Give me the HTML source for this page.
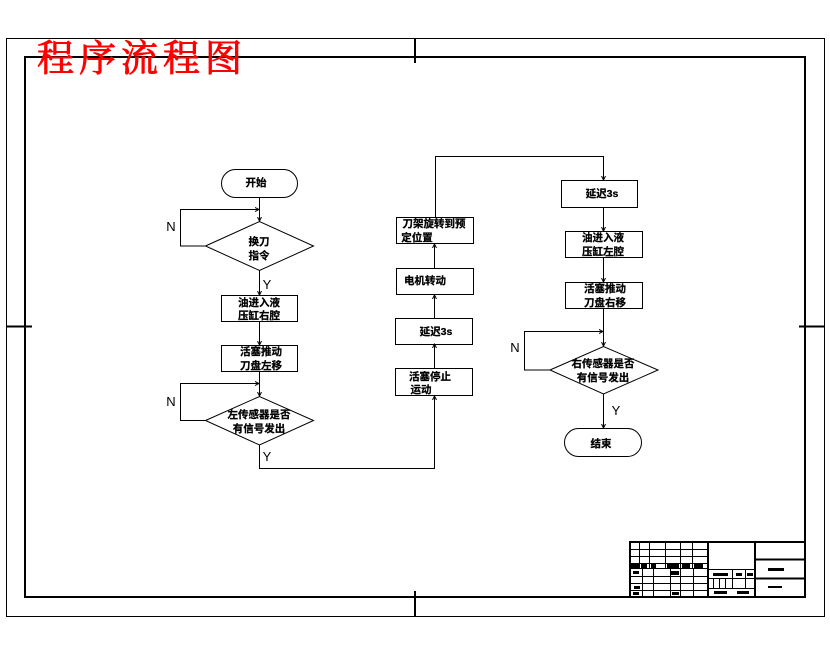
<!DOCTYPE html>
<html lang="zh"><head><meta charset="utf-8"><style>
html,body{margin:0;padding:0;background:#fff}
svg{display:block}
text{font-family:"Liberation Sans","Noto Sans CJK SC",sans-serif}
.c{font-size:10.5px;font-weight:700;text-anchor:middle;fill:#000;stroke:#000;stroke-width:.25px}
.l{font-size:13px;fill:#000;text-anchor:middle}
</style></head><body>
<svg width="830" height="654" viewBox="0 0 830 654" xmlns="http://www.w3.org/2000/svg">
<defs><marker id="a" markerWidth="5" markerHeight="6" refX="4" refY="3" orient="auto" markerUnits="userSpaceOnUse"><path d="M0 1L4 3L0 5" fill="none" stroke="#000"/></marker></defs>
<g shape-rendering="crispEdges" fill="none" stroke="#000">
<rect x="6.500" y="38.500" width="818" height="578"/>
<rect x="25" y="57" width="780" height="540" stroke-width="2"/>
<path d="M415 39V63M415 591V616M6 326.500H32M799 326.500H824" stroke-width="2"/>
</g>
<text x="37" y="71" font-size="37" fill="#f00" stroke="#f00" stroke-width=".9" textLength="205" style='font-family:"Noto Serif CJK SC",serif'>程序流程图</text>
<g fill="none" stroke="#000" shape-rendering="crispEdges">
<rect x="221.500" y="295.500" width="76" height="26"/>
<rect x="221.500" y="345.500" width="76" height="26"/>
<rect x="395.500" y="368.500" width="77" height="27"/>
<rect x="395.500" y="318.500" width="77" height="26"/>
<rect x="396.500" y="268.500" width="77" height="26"/>
<rect x="396.500" y="217.500" width="77" height="26"/>
<rect x="561.500" y="180.500" width="76" height="27"/>
<rect x="565.500" y="231.500" width="77" height="26"/>
<rect x="565.500" y="282.500" width="77" height="26"/>
</g>
<g fill="none" stroke="#000">
<rect x="221.500" y="169.500" width="76" height="28" rx="14"/>
<rect x="564.500" y="428.500" width="77" height="28" rx="14"/>
<path d="M205.500 246L259.500 221.500L313.500 246L259.500 270.500Z"/>
<path d="M205.500 420.500L259.500 396.500L313.500 420.500L259.500 445Z"/>
<path d="M550 370L603.500 346.500L658 370L603.500 394Z"/>
</g>
<g fill="none" stroke="#000" shape-rendering="crispEdges">
<path d="M259.500 197V221" marker-end="url(#a)"/>
<path d="M205 246H180.500V209.500H259" marker-end="url(#a)"/>
<path d="M259.500 270V295" marker-end="url(#a)"/>
<path d="M259.500 322V345" marker-end="url(#a)"/>
<path d="M259.500 372V396" marker-end="url(#a)"/>
<path d="M205 420.500H180.500V383.500H259" marker-end="url(#a)"/>
<path d="M259.500 445V468.500H434.500V396" marker-end="url(#a)"/>
<path d="M434.500 368V344" marker-end="url(#a)"/>
<path d="M434.500 318V295" marker-end="url(#a)"/>
<path d="M434.500 268V244" marker-end="url(#a)"/>
<path d="M435.500 217V156.500H603.500V180" marker-end="url(#a)"/>
<path d="M603.500 207V231" marker-end="url(#a)"/>
<path d="M603.500 257V282" marker-end="url(#a)"/>
<path d="M603.500 308V346" marker-end="url(#a)"/>
<path d="M550 370H524.500V331.500H603" marker-end="url(#a)"/>
<path d="M603.500 394V428" marker-end="url(#a)"/>
</g>
<text class="c" x="256" y="186">开始</text>
<text class="c" x="259" y="245">换刀</text><text class="c" x="259" y="259">指令</text>
<text class="c" x="259" y="306">油进入液</text><text class="c" x="259" y="319">压缸右腔</text>
<text class="c" x="261" y="355">活塞推动</text><text class="c" x="261" y="369">刀盘左移</text>
<text class="c" x="259" y="418">左传感器是否</text><text class="c" x="259" y="432">有信号发出</text>
<text class="c" x="430" y="380">活塞停止</text><text class="c" x="421" y="393">运动</text>
<text class="c" x="436" y="335">延迟3s</text>
<text class="c" x="425" y="284">电机转动</text>
<text class="c" x="434" y="227">刀架旋转到预</text><text class="c" x="417" y="241">定位置</text>
<text class="c" x="602" y="197">延迟3s</text>
<text class="c" x="603" y="241">油进入液</text><text class="c" x="603" y="255">压缸左腔</text>
<text class="c" x="605" y="292">活塞推动</text><text class="c" x="605" y="306">刀盘右移</text>
<text class="c" x="603" y="367">右传感器是否</text><text class="c" x="603" y="381">有信号发出</text>
<text class="c" x="601" y="447">结束</text>
<text class="l" x="171" y="231">N</text><text class="l" x="267" y="289">Y</text>
<text class="l" x="171" y="406">N</text><text class="l" x="267" y="461">Y</text>
<text class="l" x="515" y="352">N</text><text class="l" x="616" y="415">Y</text>
<g fill="none" stroke="#000" shape-rendering="crispEdges">
<path d="M630 549.500H708M630 556.500H708M630 563.500H708M630 568.500H708M630 576.500H708M630 583.500H708M630 590.500H708"/>
<path d="M639.500 542V568M649.500 542V568M665.500 542V568M680.500 542V568M692.500 542V568"/>
<path d="M642.500 568V597M653.500 568V597M670.500 568V597M680.500 568V597M693.500 568V597"/>
<path d="M708 569.500H755M708 578.500H755M708 588.500H755"/>
<path d="M732.500 569V578M745.500 569V588M713.500 578V588M719.500 578V588M725.500 578V588M732.500 578V588"/>
<g stroke-width="2">
<path d="M630 542V597M629 542H805"/>
<path d="M708 542V597M755 542V597"/>
<path d="M755 559.500H805M755 578.500H805"/>
</g>
</g>
<g shape-rendering="crispEdges" fill="#000">
<rect x="631" y="564" width="8" height="4"/><rect x="641" y="564" width="6" height="4"/><rect x="651" y="564" width="5" height="4"/>
<rect x="667" y="564" width="12" height="4"/><rect x="682" y="564" width="8" height="4"/><rect x="694" y="564" width="9" height="4"/>
<rect x="633" y="571" width="6" height="3"/><rect x="671" y="571" width="8" height="4"/>
<rect x="634" y="586" width="6" height="3"/><rect x="633" y="592" width="6" height="3"/><rect x="672" y="592" width="7" height="3"/>
<rect x="713" y="573" width="15" height="3"/><rect x="736" y="573" width="6" height="3"/><rect x="747" y="573" width="6" height="3"/>
<rect x="714" y="591" width="13" height="3"/><rect x="737" y="591" width="12" height="3"/>
<rect x="768" y="568" width="16" height="3"/><rect x="768" y="586" width="14" height="2"/>
</g>
</svg>
</body></html>
